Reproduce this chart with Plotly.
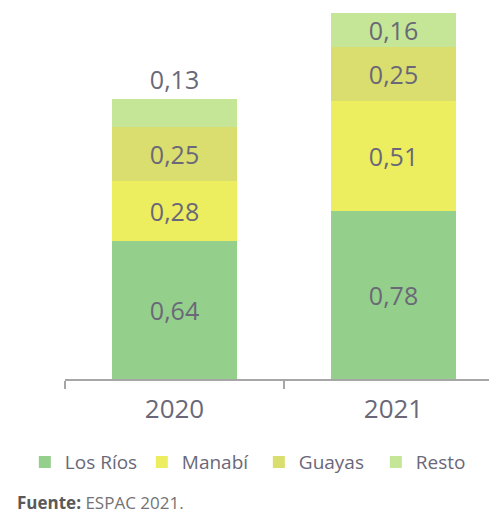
import plotly.graph_objects as go

years = ["2020", "2021"]
series_names = ["Los Ríos", "Manabí", "Guayas", "Resto"]
los_rios = [0.64, 0.78]
manabi = [0.28, 0.51]
guayas = [0.25, 0.25]
resto = [0.13, 0.16]
colors = ["#94D08C", "#ECEE60", "#DADE6E", "#C4E696"]

FONT = "Open Sans"
TXT = "#6A6878"

fig = go.Figure()
for name, vals, col in zip(series_names, [los_rios, manabi, guayas, resto], colors):
    pos = ["inside"] * len(vals)
    if name == "Resto":
        pos = ["outside", "inside"]
    fig.add_trace(go.Bar(
        x=years, y=vals, name=name,
        marker=dict(color=col, line=dict(width=0)),
        width=0.57,
        texttemplate="%{y:.2f}",
        textposition=pos,
        insidetextanchor="middle",
        constraintext="none",
        textfont=dict(family=FONT, size=25, color=TXT),
        cliponaxis=False,
    ))

# page body adds an 8px offset; plot area: x 65..497, y 13..379 on screen
fig.update_layout(
    barmode="stack",
    separators=",.",
    width=489, height=508,
    margin=dict(l=57, r=0, t=5, b=137),
    paper_bgcolor="white", plot_bgcolor="white",
    font=dict(family=FONT, color=TXT),
    showlegend=True,
    legend=dict(orientation="h", x=-0.093, xanchor="left", y=-0.227, yanchor="middle",
                font=dict(family=FONT, size=19, color=TXT),
                entrywidth=72, entrywidthmode="pixels",
                itemsizing="constant", tracegroupgap=0, itemwidth=30, traceorder="normal"),
    xaxis=dict(type="category", range=[-0.5, 1.4726], showline=True, linecolor="#A6A6A6",
               linewidth=1.5, ticks="outside", tickson="boundaries", ticklen=8,
               tickcolor="#A6A6A6", tickwidth=1.5, ticklabelstandoff=6,
               tickfont=dict(family=FONT, size=26, color=TXT), showgrid=False),
    yaxis=dict(range=[0, 1.70], visible=False, showgrid=False),
)
fig.add_annotation(
    text="<b><span style='color:#595959'>Fuente:</span></b> ESPAC 2021.",
    xref="paper", yref="paper", x=(7 - 57) / 432, y=(379 - 502) / 366,
    xanchor="left", yanchor="middle", showarrow=False,
    font=dict(family=FONT, size=17, color="#737373"),
)
fig.write_html("out.html")
